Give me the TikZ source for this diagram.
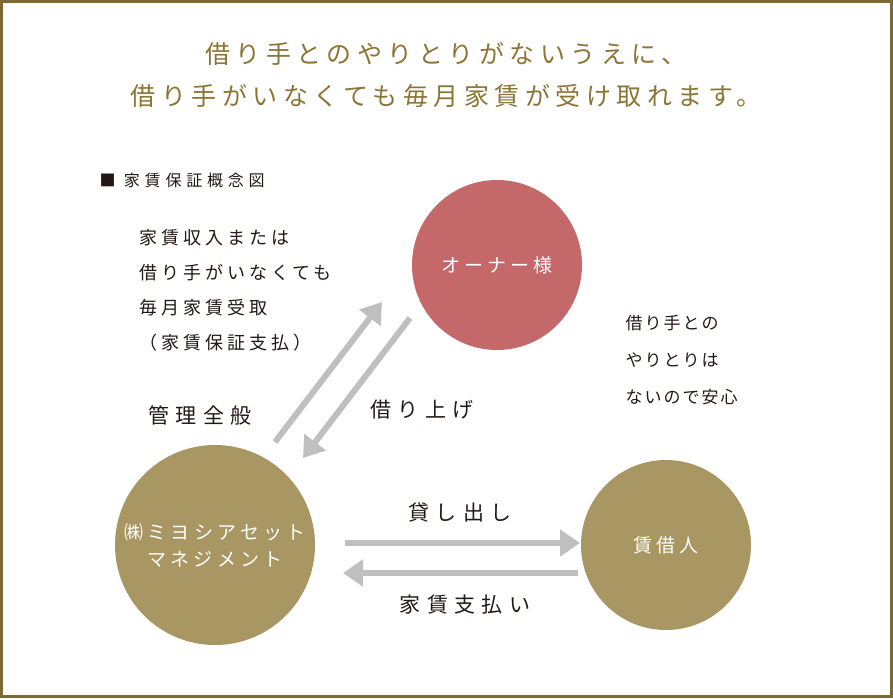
\documentclass[tikz,border=0pt]{standalone}
\usepackage{fontspec}
\setmainfont{Noto Sans CJK JP}
\newfontfamily\wide[LetterSpace=22]{Noto Sans CJK JP}
\newfontfamily\wider[LetterSpace=30]{Noto Sans CJK JP}
\newfontfamily\midsp[LetterSpace=12]{Noto Sans CJK JP}
\usetikzlibrary{arrows.meta}
\definecolor{gold}{HTML}{8C7434}
\definecolor{frame}{HTML}{7D6A32}
\definecolor{owner}{HTML}{C4686A}
\definecolor{brown}{HTML}{A89663}
\definecolor{arr}{HTML}{BFBFBF}
\definecolor{txt}{HTML}{231815}
\tikzset{
  circ/.style={circle,fill=#1,text=white,align=center,font=\wide\fontsize{19}{27}\selectfont},
  lbl/.style={text=txt,font=\wider\fontsize{21}{24}\selectfont},
  small/.style={text=txt,align=left,anchor=north west}
}
\tikzset{garrow/.style={draw=arr,line width=6pt,-{Triangle[length=20pt,width=26pt]}}}
\begin{document}
\begin{tikzpicture}[x=1pt,y=-1pt]
\useasboundingbox (0,0) rectangle (893,698);
\draw[frame,line width=3pt] (1.5,1.5) rectangle (891.5,696.5);
\node[text=gold,font=\wide\fontsize{25}{42}\selectfont,align=center] (title) at (446,75) {借り手とのやりとりがないうえに、\\借り手がいなくても毎月家賃が受け取れます。};
\node[anchor=west,text=txt,font=\wider\fontsize{16}{18}\selectfont] (cap) at (96,180) {■ 家賃保証概念図};
\node[circ=owner,minimum size=170pt] (own) at (497,265) {オーナー様};
\node[circ=brown,minimum size=200pt] (co) at (215,545) {㈱ミヨシアセット\\マネジメント};
\node[circ=brown,minimum size=170pt] (ten) at (666,545) {賃借人};
\node[small,font=\wide\fontsize{18}{35}\selectfont] (lt) at (136,226) {家賃収入または\\借り手がいなくても\\毎月家賃受取\\（家賃保証支払）};
\node[small,font=\midsp\fontsize{17}{37}\selectfont] (rt) at (622,312) {借り手との\\やりとりは\\ないので安心};
\node[lbl] (kanri) at (200,415) {管理全般};
\node[lbl] (kari) at (422,410) {借り上げ};
\node[lbl] (kashi) at (460,513) {貸し出し};
\node[lbl] (pay) at (465,605) {家賃支払い};
\coordinate (a1) at (275,442); \coordinate (a2) at (382,302);
\coordinate (b1) at (410,318); \coordinate (b2) at (303,458);
\coordinate (c1) at (345,543); \coordinate (c2) at (580,543);
\coordinate (d1) at (578,573); \coordinate (d2) at (343,573);
\draw[garrow] (a1) -- (a2);
\draw[garrow] (b1) -- (b2);
\draw[garrow] (c1) -- (c2);
\draw[garrow] (d1) -- (d2);
\end{tikzpicture}
\end{document}
